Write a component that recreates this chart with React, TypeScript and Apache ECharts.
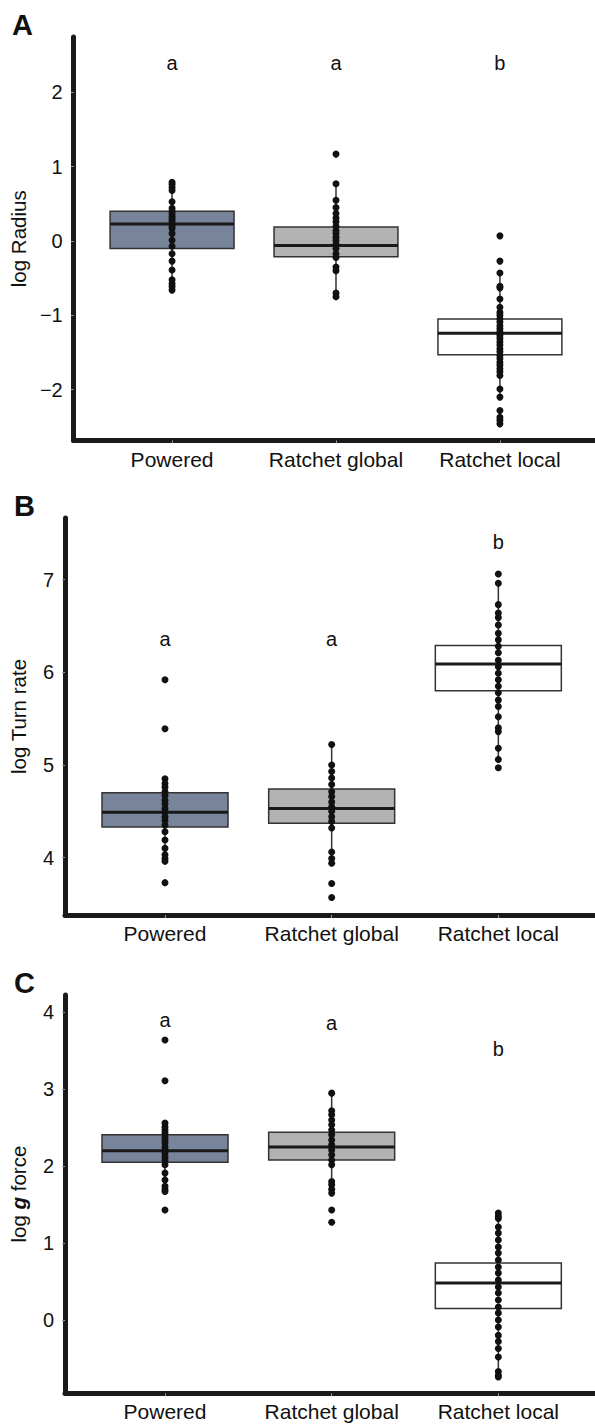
import React, { useEffect, useRef } from "react";
import * as echarts from "echarts";

const categories = ["Powered", "Ratchet global", "Ratchet local"];
const boxColors = ["#78849a", "#b3b3b3", "#ffffff"];

// Panel A: log Radius  [whiskerLow, Q1, median, Q3, whiskerHigh]
const radiusBoxes = [
  [-0.66, -0.1, 0.23, 0.4, 0.79],
  [-0.75, -0.21, -0.06, 0.19, 0.77],
  [-2.1, -1.53, -1.24, -1.05, -0.43],
];
const radiusPowered = [0.79, 0.76, 0.72, 0.68, 0.53, 0.44, 0.4, 0.37, 0.33, 0.3, 0.27, 0.23, 0.2, 0.17, 0.1, 0.01, -0.07, -0.17, -0.27, -0.39, -0.52, -0.57, -0.61, -0.66];
const radiusGlobal = [1.17, 0.77, 0.55, 0.45, 0.37, 0.31, 0.26, 0.2, 0.14, 0.1, 0.05, 0.01, -0.04, -0.1, -0.17, -0.22, -0.35, -0.4, -0.7, -0.75];
const radiusLocal = [0.07, -0.27, -0.43, -0.61, -0.63, -0.78, -0.89, -0.96, -1.0, -1.05, -1.09, -1.14, -1.18, -1.22, -1.27, -1.31, -1.36, -1.4, -1.45, -1.49, -1.54, -1.58, -1.63, -1.67, -1.72, -1.76, -1.81, -1.99, -2.1, -2.28, -2.37, -2.41, -2.46];
const radiusLetters = ["a", "a", "b"];
const radiusLetterY = [2.4, 2.4, 2.4];
const radiusTicks = [-2, -1, 0, 1, 2];

// Panel B: log Turn rate
const turnBoxes = [
  [3.96, 4.33, 4.49, 4.7, 4.85],
  [3.94, 4.37, 4.53, 4.74, 5.22],
  [5.06, 5.8, 6.09, 6.29, 6.96],
];
const turnPowered = [5.92, 5.39, 4.85, 4.8, 4.76, 4.71, 4.67, 4.62, 4.58, 4.53, 4.49, 4.44, 4.4, 4.35, 4.28, 4.19, 4.1, 4.03, 3.99, 3.96, 3.73];
const turnGlobal = [5.22, 5.0, 4.93, 4.86, 4.79, 4.71, 4.66, 4.6, 4.55, 4.5, 4.44, 4.39, 4.32, 4.06, 3.99, 3.94, 3.72, 3.57];
const turnLocal = [7.06, 6.96, 6.73, 6.64, 6.59, 6.51, 6.42, 6.35, 6.28, 6.21, 6.13, 6.06, 5.99, 5.92, 5.85, 5.78, 5.7, 5.63, 5.52, 5.4, 5.36, 5.18, 5.06, 4.97];
const turnLetters = ["a", "a", "b"];
const turnLetterY = [6.36, 6.36, 7.41];
const turnTicks = [4, 5, 6, 7];

// Panel C: log g force
const gBoxes = [
  [1.67, 2.05, 2.2, 2.41, 2.56],
  [1.65, 2.08, 2.25, 2.44, 2.95],
  [-0.72, 0.15, 0.48, 0.74, 1.39],
];
const gPowered = [3.64, 3.11, 2.56, 2.51, 2.47, 2.43, 2.38, 2.34, 2.3, 2.25, 2.21, 2.17, 2.12, 2.08, 2.02, 1.91, 1.82, 1.74, 1.7, 1.67, 1.43];
const gGlobal = [2.95, 2.72, 2.67, 2.6, 2.54, 2.47, 2.41, 2.34, 2.28, 2.21, 2.15, 2.08, 2.02, 1.8, 1.76, 1.7, 1.65, 1.43, 1.27];
const gLocal = [1.39, 1.35, 1.32, 1.21, 1.13, 1.04, 0.95, 0.87, 0.78, 0.69, 0.61, 0.52, 0.43, 0.35, 0.26, 0.17, 0.09, 0.0, -0.09, -0.2, -0.28, -0.37, -0.48, -0.67, -0.72, -0.74];
const gLetters = ["a", "a", "b"];
const gLetterY = [3.9, 3.86, 3.52];
const gTicks = [0, 1, 2, 3, 4];

const FONT = "Liberation Sans, Arial, sans-serif";
const AXIS_COLOR = "#1a1a1a";
const TEXT_COLOR = "#111111";

export default function App() {
  const ref = useRef<HTMLDivElement>(null);

  useEffect(() => {
    if (!ref.current) return;
    const chart = echarts.init(ref.current, null, { renderer: "svg" });

    const panels = [
      {
        top: 37, height: 403.5, min: -2.684, max: 2.746, ticks: radiusTicks,
        name: "log Radius", boxes: radiusBoxes,
        points: [radiusPowered, radiusGlobal, radiusLocal],
        letters: radiusLetters, letterY: radiusLetterY,
      },
      {
        top: 518, height: 397, min: 3.381, max: 7.665, ticks: turnTicks,
        name: "log Turn rate", boxes: turnBoxes,
        points: [turnPowered, turnGlobal, turnLocal],
        letters: turnLetters, letterY: turnLetterY,
      },
      {
        top: 995, height: 398.3, min: -0.953, max: 4.226, ticks: gTicks,
        name: "log {b|g} force", boxes: gBoxes,
        points: [gPowered, gGlobal, gLocal],
        letters: gLetters, letterY: gLetterY,
      },
    ];

    const grid: any[] = [];
    const xAxis: any[] = [];
    const yAxis: any[] = [];
    const series: any[] = [];

    panels.forEach((p, i) => {
      grid.push({ left: 64.5, right: 0, top: p.top, height: p.height, containLabel: false });
      xAxis.push({
        type: "value",
        gridIndex: i,
        min: 0.4,
        max: 3.58,
        splitLine: { show: false },
        axisLine: { show: true, onZero: false, lineStyle: { color: AXIS_COLOR, width: 5 } },
        axisTick: { show: true, customValues: [1, 2, 3], length: 3, lineStyle: { color: "#999", width: 1 } },
        axisLabel: {
          show: true,
          customValues: [1, 2, 3],
          formatter: (v: number) => categories[Math.round(v) - 1] || "",
          fontSize: 21,
          fontFamily: FONT,
          color: TEXT_COLOR,
          margin: 8,
        },
      });
      yAxis.push({
        type: "value",
        gridIndex: i,
        min: p.min,
        max: p.max,
        splitLine: { show: false },
        axisLine: { show: true, onZero: false, lineStyle: { color: AXIS_COLOR, width: 5 } },
        axisTick: { show: true, customValues: p.ticks, length: 3, lineStyle: { color: "#999", width: 1 } },
        axisLabel: {
          show: true,
          customValues: p.ticks,
          formatter: (v: number) => String(v).replace("-", "\u2212"),
          fontSize: 20,
          fontFamily: FONT,
          color: TEXT_COLOR,
          margin: 11,
        },
        name: p.name,
        nameLocation: "middle",
        nameGap: 36,
        nameTextStyle: {
          fontSize: 20.5,
          fontFamily: FONT,
          color: TEXT_COLOR,
          rich: { b: { fontSize: 20.5, fontFamily: FONT, fontWeight: "bold", fontStyle: "italic", color: TEXT_COLOR } },
        },
      });

      const boxData = p.boxes.map((b, k) => [k + 1, ...b, k]);
      series.push({
        type: "custom",
        xAxisIndex: i,
        yAxisIndex: i,
        data: boxData,
        z: 2,
        encode: { x: 0, y: [1, 2, 3, 4, 5] },
        renderItem: (params: any, api: any) => {
          const x = api.value(0);
          const lo = api.coord([x, api.value(1)]);
          const q1 = api.coord([x, api.value(2)]);
          const med = api.coord([x, api.value(3)]);
          const q3 = api.coord([x, api.value(4)]);
          const hi = api.coord([x, api.value(5)]);
          const w = api.size([0.756, 0])[0];
          const idx = api.value(6);
          const cx = q1[0];
          return {
            type: "group",
            children: [
              { type: "line", shape: { x1: cx, y1: lo[1], x2: cx, y2: q1[1] }, style: { stroke: "#333", lineWidth: 1.5 } },
              { type: "line", shape: { x1: cx, y1: q3[1], x2: cx, y2: hi[1] }, style: { stroke: "#333", lineWidth: 1.5 } },
              {
                type: "rect",
                shape: { x: cx - w / 2, y: q3[1], width: w, height: q1[1] - q3[1] },
                style: { fill: boxColors[idx], stroke: "#333", lineWidth: 1.5 },
              },
              { type: "line", shape: { x1: cx - w / 2, y1: med[1], x2: cx + w / 2, y2: med[1] }, style: { stroke: "#1a1a1a", lineWidth: 3 } },
            ],
          };
        },
      });

      p.points.forEach((vals, k) => {
        series.push({
          type: "scatter",
          xAxisIndex: i,
          yAxisIndex: i,
          z: 3,
          symbol: "circle",
          symbolSize: 7,
          itemStyle: { color: "#111", opacity: 1 },
          data: vals.map((v) => [k + 1, v]),
        });
      });

      series.push({
        type: "scatter",
        xAxisIndex: i,
        yAxisIndex: i,
        z: 4,
        symbolSize: 1,
        itemStyle: { color: "rgba(0,0,0,0)", opacity: 1 },
        data: p.letters.map((l, k) => ({ value: [k + 1, p.letterY[k]], name: l })),
        label: {
          show: true,
          position: "inside",
          formatter: (d: any) => d.name,
          fontSize: 20,
          fontFamily: FONT,
          color: TEXT_COLOR,
          opacity: 1,
        },
      });
    });

    chart.setOption({
      animation: false,
      backgroundColor: "#ffffff",
      grid,
      xAxis,
      yAxis,
      series,
      graphic: [
        { type: "text", left: 12, top: 10, style: { text: "A", fontSize: 29, fontWeight: "bold", fontFamily: FONT, fill: TEXT_COLOR } },
        { type: "text", left: 14, top: 491, style: { text: "B", fontSize: 29, fontWeight: "bold", fontFamily: FONT, fill: TEXT_COLOR } },
        { type: "text", left: 14, top: 968, style: { text: "C", fontSize: 29, fontWeight: "bold", fontFamily: FONT, fill: TEXT_COLOR } },
      ],
    });

    return () => chart.dispose();
  }, []);

  return (
    <div
      ref={ref}
      style={{ position: "absolute", left: 0, top: 0, width: 595, height: 1424 }}
    />
  );
}
